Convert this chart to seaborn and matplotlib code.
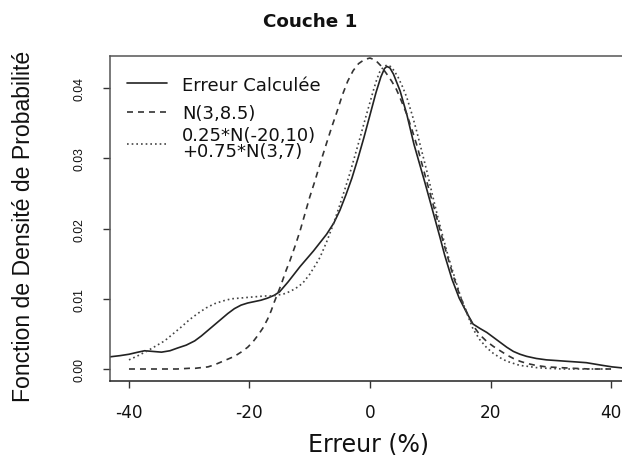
import matplotlib
matplotlib.use("Agg")
import matplotlib.pyplot as plt
import pandas as pd
import seaborn as sns

# ---- data ----
x_calc = [-43.5, -41.5, -40.0, -38.5, -37.4, -36.0, -34.6, -33.2, -31.9, -30.5,
          -29.1, -28.0, -26.9, -25.8, -24.7, -23.6, -22.5, -21.4, -20.3, -19.2,
          -18.1, -17.0, -15.9, -15.0, -14.3, -13.6, -12.6, -11.6, -10.5, -9.4,
          -8.3, -7.2, -6.0, -5.0, -4.0, -3.0, -2.0, -1.0, 0.0, 1.0,
          1.8, 2.4, 2.8, 3.3, 3.9, 5.0, 6.1, 7.3, 8.3, 9.1,
          10.0, 10.8, 11.6, 12.4, 13.6, 14.8, 16.0, 17.1, 18.2, 19.4,
          20.5, 21.6, 22.7, 23.8, 24.9, 26.0, 27.6, 29.3, 31.0, 32.6,
          34.3, 35.9, 37.3, 38.7, 40.2, 42.5]
y_calc = [0.0017, 0.0019, 0.0021, 0.0024, 0.0026, 0.0025, 0.0024, 0.0026, 0.0030, 0.0034,
          0.0040, 0.0047, 0.0055, 0.0063, 0.0071, 0.0079, 0.0086, 0.0091, 0.0094, 0.0096,
          0.0098, 0.0101, 0.0105, 0.0110, 0.0117, 0.0124, 0.0135, 0.0146, 0.0157, 0.0168,
          0.0180, 0.0192, 0.0208, 0.0226, 0.0248, 0.0272, 0.0300, 0.0330, 0.0362, 0.0394,
          0.0416, 0.0428, 0.0431, 0.0429, 0.0420, 0.0396, 0.0363, 0.0320, 0.0290, 0.0266,
          0.0238, 0.0213, 0.0188, 0.0162, 0.0128, 0.0101, 0.0081, 0.0064, 0.0058, 0.0052,
          0.0045, 0.0038, 0.0031, 0.0025, 0.0021, 0.0018, 0.0015, 0.0013, 0.0012, 0.0011,
          0.0010, 0.0009, 0.0007, 0.0005, 0.0003, 0.0001]

x_norm = [-40.0, -35.0, -32.0, -30.0, -29.0, -28.0, -26.9, -25.8, -24.7, -23.6,
          -22.5, -21.4, -20.3, -19.4, -18.6, -17.8, -17.0, -16.4, -15.9, -14.8,
          -13.9, -13.3, -12.4, -11.6, -10.8, -10.0, -9.1, -8.3, -7.2, -6.3,
          -5.5, -4.6, -3.7, -2.8, -1.9, -0.9, 0.0, 0.9, 1.8, 2.8,
          3.6, 4.4, 5.2, 6.1, 7.0, 7.8, 8.5, 9.2, 10.1, 11.0,
          11.8, 12.6, 13.8, 14.9, 16.0, 17.1, 18.2, 19.4, 20.5, 21.6,
          22.7, 23.8, 24.9, 26.0, 27.6, 29.3, 31.5, 33.7, 36.5, 40.0]
y_norm = [0.0000, 0.0000, 0.0000, 0.0001, 0.0001, 0.0002, 0.0003, 0.0006, 0.0010, 0.0014,
          0.0018, 0.0024, 0.0031, 0.0039, 0.0048, 0.0058, 0.0071, 0.0083, 0.0095, 0.0119,
          0.0141, 0.0154, 0.0176, 0.0197, 0.0221, 0.0245, 0.0269, 0.0292, 0.0322, 0.0346,
          0.0366, 0.0390, 0.0410, 0.0425, 0.0435, 0.0441, 0.0443, 0.0440, 0.0432, 0.0420,
          0.0410, 0.0398, 0.0382, 0.0363, 0.0340, 0.0318, 0.0296, 0.0274, 0.0246, 0.0218,
          0.0192, 0.0168, 0.0133, 0.0105, 0.0082, 0.0062, 0.0049, 0.0039, 0.0032, 0.0026,
          0.0020, 0.0015, 0.0011, 0.0008, 0.0005, 0.0003, 0.0002, 0.0001, 0.0000, 0.0000]

x_mix = [-40.0, -38.5, -36.9, -35.5, -34.1, -32.7, -31.3, -30.0, -28.6, -27.2,
         -25.8, -24.4, -23.0, -21.6, -20.3, -18.9, -17.5, -16.5, -15.5, -14.3,
         -13.4, -12.5, -11.8, -11.1, -10.0, -9.2, -8.3, -7.2, -6.1, -5.0,
         -4.1, -3.3, -2.5, -1.7, -0.8, 0.0, 0.6, 1.1, 1.6, 2.2,
         2.8, 3.4, 4.0, 4.7, 5.4, 6.1, 7.0, 7.8, 8.6, 9.4,
         10.3, 11.3, 12.2, 13.0, 14.1, 15.0, 16.0, 17.1, 18.2, 19.4,
         20.5, 21.6, 22.7, 23.8, 24.9, 26.0, 27.6, 29.3, 32.0, 40.0]
y_mix = [0.0013, 0.0019, 0.0026, 0.0033, 0.0040, 0.0050, 0.0060, 0.0070, 0.0079, 0.0087,
         0.0093, 0.0097, 0.0100, 0.0101, 0.0102, 0.0103, 0.0104, 0.0104, 0.0105, 0.0107,
         0.0110, 0.0114, 0.0118, 0.0123, 0.0135, 0.0146, 0.0159, 0.0181, 0.0206, 0.0234,
         0.0258, 0.0280, 0.0304, 0.0328, 0.0356, 0.0380, 0.0398, 0.0412, 0.0423, 0.0430,
         0.0433, 0.0431, 0.0425, 0.0415, 0.0402, 0.0387, 0.0362, 0.0337, 0.0310, 0.0283,
         0.0250, 0.0215, 0.0185, 0.0160, 0.0129, 0.0104, 0.0081, 0.0057, 0.0042, 0.0030,
         0.0022, 0.0016, 0.0011, 0.0008, 0.0005, 0.0004, 0.0002, 0.0001, 0.0000, 0.0000]

series_labels = ["Erreur Calculée", "N(3,8.5)", "0.25*N(-20,10)\n+0.75*N(3,7)"]
xticks = [-40, -20, 0, 20, 40]
xtick_labels = ["-40", "-20", "0", "20", "40"]
yticks = [0.00, 0.01, 0.02, 0.03, 0.04]
ytick_labels = ["0.00", "0.01", "0.02", "0.03", "0.04"]
title = "Couche 1"
xlabel = "Erreur (%)"
ylabel = "Fonction de Densité de Probabilité"

# ---- style ----
sns.set_theme(style="white")
plt.rcParams['font.family'] = ['DejaVu Sans']
plt.rcParams['axes.linewidth'] = 1.0

W, H = 622, 456
fig = plt.figure(figsize=(W / 100, H / 100), dpi=100)
fig.patch.set_facecolor("white")
L, R, T, B = 110, 625, 57, 382
ax = fig.add_axes([L / W, 1 - B / H, (R - L) / W, (B - T) / H])
ax.set_facecolor("white")

df_calc = pd.DataFrame({"x": x_calc, "y": y_calc})
df_norm = pd.DataFrame({"x": x_norm, "y": y_norm})
df_mix = pd.DataFrame({"x": x_mix, "y": y_mix})

sns.lineplot(data=df_calc, x="x", y="y", ax=ax, color="#222222", linewidth=1.2)
sns.lineplot(data=df_norm, x="x", y="y", ax=ax, color="#333333", linewidth=1.2)
sns.lineplot(data=df_mix, x="x", y="y", ax=ax, color="#444444", linewidth=1.2)
lines = ax.get_lines()
lines[0].set_linestyle("-")
lines[1].set_dashes([3.6, 3.0])
lines[2].set_dashes([1.0, 1.8])

ax.set_xlim(-43.15, 42.32)
ax.set_ylim(-0.00171, 0.04459)

ax.set_xticks(xticks)
ax.set_xticklabels(xtick_labels, fontsize=12.2, family="DejaVu Sans", color="#111111")
ax.set_yticks(yticks)
ax.set_yticklabels(ytick_labels, fontsize=8.7, family="Liberation Sans", color="#111111",
                   rotation=90, va="center")
ax.tick_params(axis="x", direction="out", length=5, width=1.0, color="#333333", pad=10.5, bottom=True)
ax.tick_params(axis="y", direction="out", length=5, width=1.0, color="#333333", pad=12.5, left=True)
for s in ax.spines.values():
    s.set_color("#555555")
    s.set_linewidth(1.1)
ax.spines["bottom"].set_color("#222222")
ax.set_xlabel("")
ax.set_ylabel("")

leg_kw = dict(frameon=False, prop={"family": "DejaVu Sans", "size": 13},
              handlelength=2.2, handletextpad=0.85, borderpad=0, borderaxespad=0,
              loc="center left")
leg_a = ax.legend(handles=lines[:2], labels=series_labels[:2],
                  bbox_to_anchor=(17 / (R - L), 1 - (100 - T) / (B - T)),
                  labelspacing=0.6, **leg_kw)
for t in leg_a.get_texts():
    t.set_color("#111111")
ax.add_artist(leg_a)
leg_b = ax.legend(handles=lines[2:3], labels=series_labels[2:3],
                  bbox_to_anchor=(17 / (R - L), 1 - (144 - T) / (B - T)),
                  **leg_kw)
for t in leg_b.get_texts():
    t.set_linespacing(0.8)
    t.set_color("#111111")

fig.text(310 / W, 1 - 27 / H, title, ha="center", va="baseline",
         fontsize=13.2, fontweight="bold", family="DejaVu Sans", color="#111111")
fig.text(368 / W, 4 / H, xlabel, ha="center", va="baseline",
         fontsize=17, family="DejaVu Sans", color="#111111")
fig.text(24 / W, 1 - 226.5 / H, ylabel, ha="center", va="center", rotation=90,
         fontsize=16.6, family="Liberation Sans", color="#111111")

fig.savefig("out.png", dpi=100, facecolor="white")
